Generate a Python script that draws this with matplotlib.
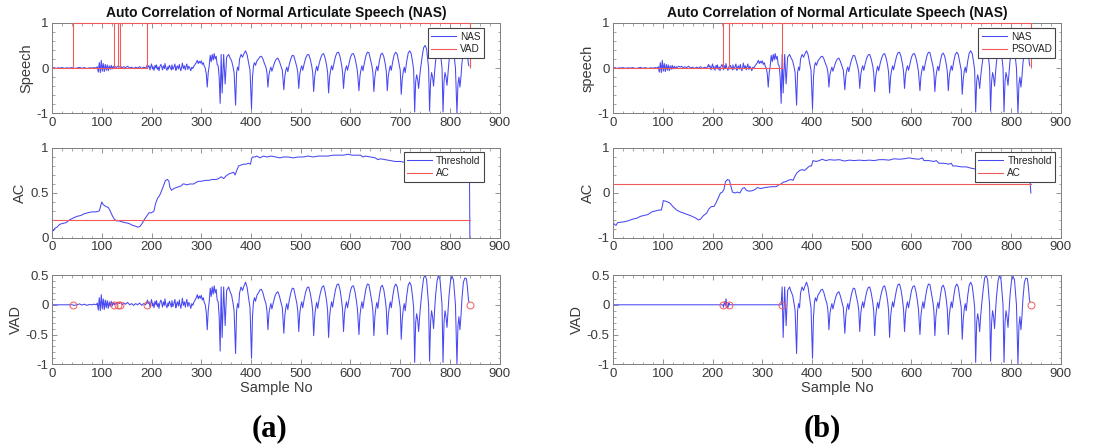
import numpy as np
import matplotlib
matplotlib.use("Agg")
import matplotlib.pyplot as plt
from matplotlib.ticker import MultipleLocator, AutoMinorLocator, FuncFormatter

plt.rcParams['font.family'] = ['Liberation Sans', 'DejaVu Sans']

# speech waveform, vertices (sample no, amplitude)
nas_x = [0, 4, 8, 12, 16, 20, 25, 30, 35, 40, 45, 50, 55, 60, 65, 70, 75, 80, 85, 89,
         91, 93, 95, 97, 99, 101, 103, 105, 107, 109, 111, 113, 115, 117, 119, 121, 123, 125, 127, 129,
         132, 135, 138, 141, 144, 148, 152, 156, 160, 164, 168, 172, 176, 180, 184, 188, 190,
         192, 193, 195, 197, 198, 200, 202, 203, 205, 207, 209, 210, 212, 214, 215, 217, 219, 221, 222,
         224, 226, 227, 229, 231, 233, 234, 236, 238, 240, 241, 243, 245, 247, 249, 250, 252, 254, 256,
         257, 259, 261, 262, 264, 266, 268, 269, 271, 273, 275, 277, 279, 281, 283, 285, 287,
         290, 292, 294, 296, 298, 300, 302, 304, 306, 308, 310, 312, 314, 316, 318, 320, 322, 324, 326,
         328, 330, 332, 334, 336, 338, 340, 342, 345, 348, 351, 355, 358, 361, 364, 366, 369, 371, 373,
         375, 377, 380, 383, 386, 389, 392, 395, 398, 401,
         403, 405, 407, 409, 412, 415, 418, 421, 424, 427, 430, 432, 434,
         436, 438, 440, 442, 445, 448, 451, 454, 457, 460, 463, 466,
         468, 470, 472, 474, 477, 480, 483, 486, 489, 492, 494, 496,
         498, 500, 502, 504, 507, 510, 513, 516, 519, 522, 524, 526,
         528, 530, 532, 534, 537, 540, 543, 546, 549, 552, 554, 556,
         558, 560, 562, 564, 567, 570, 573, 576, 579, 582, 584, 586,
         588, 590, 592, 594, 597, 600, 603, 606, 609, 612, 614, 617,
         619, 621, 623, 625, 628, 631, 634, 637, 640, 643, 645, 647,
         649, 651, 653, 655, 658, 661, 664, 667, 670, 672, 674,
         676, 678, 680, 682, 685, 688, 691, 694, 697, 700, 702,
         704, 706, 708, 710, 713, 716, 719, 722, 725, 727, 729,
         731, 733, 735, 737, 739, 741, 744, 747, 750, 753, 755, 757, 759,
         761, 763, 765, 767, 769, 771, 774, 777, 780, 782, 784, 786,
         788, 790, 792, 794, 796, 798, 801, 804, 807, 809, 811, 814,
         816, 818, 820, 822, 824, 827, 830, 833, 835, 837, 838]
nas_y = [0.0, 0.01, -0.01, 0.005, 0.0, 0.01, -0.005, 0.005, 0.0, 0.01, -0.01, 0.0, 0.015, -0.005, 0.01, -0.01, 0.005, 0.0, 0.01, 0.0,
         0.03, -0.09, 0.12, -0.1, 0.17, -0.07, 0.1, -0.08, 0.08, -0.05, 0.07, -0.06, 0.05, -0.03, 0.06, -0.02, 0.04, 0.0, 0.03, 0.01,
         0.04, 0.02, 0.04, 0.0, 0.03, 0.01, 0.04, 0.0, 0.02, -0.01, 0.02, 0.0, 0.03, -0.01, 0.02, 0.0, 0.03,
         0.08, 0.02, 0.05, -0.04, 0.01, 0.09, -0.02, 0.03, -0.05, 0.06, 0.0, 0.07, -0.03, 0.02, -0.06, 0.04, 0.08, 0.01, -0.04,
         0.05, -0.01, 0.1, 0.0, -0.05, 0.03, -0.02, 0.06, 0.01, -0.04, 0.07, -0.03, 0.02, 0.09, -0.05, 0.0, 0.05, -0.02, 0.08,
         0.01, -0.06, 0.04, 0.11, -0.01, 0.05, -0.04, 0.02, 0.09, -0.03, 0.04, 0.0, -0.06, 0.02, -0.01, 0.04, 0.07,
         0.12, 0.17, 0.1, 0.15, 0.11, 0.16, 0.08, 0.12, 0.04, 0.0, -0.12, -0.42, -0.1, 0.05, 0.28, 0.14, 0.3, 0.18, 0.32,
         0.2, 0.26, 0.08, 0.05, -0.2, -0.78, 0.3, -0.55, 0.3, -0.35, 0.24, 0.3, 0.22, 0.16, 0.02, -0.1, -0.82, -0.1, 0.02,
         -0.05, 0.2, 0.3, 0.24, 0.32, 0.38, 0.3, 0.12, -0.05, -0.9,
         -0.2, 0.05, 0.12, 0.06, 0.16, 0.2, 0.25, 0.26, 0.2, 0.1, 0.02, -0.1, -0.42,
         -0.15, -0.05, 0.02, -0.07, 0.04, 0.14, 0.2, 0.22, 0.15, 0.05, -0.05, -0.48,
         -0.18, -0.05, 0.02, -0.08, 0.08, 0.2, 0.28, 0.27, 0.15, 0.03, -0.1, -0.45,
         -0.15, -0.02, 0.05, -0.05, 0.1, 0.22, 0.29, 0.3, 0.2, 0.05, -0.1, -0.52,
         -0.2, -0.05, 0.04, -0.06, 0.1, 0.22, 0.3, 0.32, 0.22, 0.06, -0.1, -0.55,
         -0.2, -0.05, 0.05, -0.04, 0.12, 0.26, 0.34, 0.35, 0.25, 0.08, -0.08, -0.45,
         -0.15, -0.02, 0.05, -0.05, 0.1, 0.24, 0.31, 0.32, 0.22, 0.06, -0.08, -0.5,
         -0.18, -0.04, 0.05, -0.06, 0.12, 0.27, 0.35, 0.34, 0.2, 0.05, -0.1, -0.52,
         -0.2, -0.05, 0.04, -0.06, 0.15, 0.3, 0.33, 0.25, 0.08, -0.08, -0.5,
         -0.18, -0.04, 0.05, -0.05, 0.15, 0.3, 0.35, 0.3, 0.12, -0.05, -0.58,
         -0.25, -0.08, 0.02, -0.1, 0.15, 0.33, 0.38, 0.32, 0.12, -0.05, -0.97,
         -0.3, -0.15, -0.25, -0.45, -0.2, 0.0, 0.25, 0.45, 0.5, 0.42, 0.2, 0.0, -0.95,
         -0.3, -0.1, -0.2, -0.4, -0.1, 0.15, 0.4, 0.5, 0.42, 0.2, 0.0, -0.97,
         -0.3, -0.1, -0.2, -0.38, -0.1, 0.15, 0.4, 0.48, 0.42, 0.2, 0.0, -1.0,
         -0.35, -0.2, -0.42, -0.2, 0.1, 0.38, 0.45, 0.44, 0.3, 0.1, 0.05]

# autocorrelation curves
ac_a_x = [0, 3, 6, 10, 15, 20, 28, 35, 42, 50, 58, 65, 72, 80, 88, 95, 98, 100, 103, 108, 113, 117, 121,
          125, 130, 135, 140, 148, 155, 162, 168, 173, 177, 181, 185, 190, 195, 200, 205, 208, 212, 216,
          220, 224, 228, 232, 235, 237, 240, 245, 250, 255, 260, 263, 266, 270, 278, 285, 290, 295, 300,
          308, 315, 322, 330, 335, 340, 345, 350, 355, 360, 365, 368, 372, 375, 380, 385, 390, 395, 399,
          401, 403, 408, 412, 418, 425, 432, 440, 450, 458, 465, 475, 485, 495, 505, 515, 525, 535, 545,
          555, 565, 575, 585, 595, 603, 610, 620, 625, 630, 640, 650, 655, 660, 670, 680, 690, 700, 710,
          720, 730, 740, 760, 780, 800, 815, 825, 828, 832, 836, 839, 840]
ac_a_y = [0.1, 0.08, 0.11, 0.12, 0.15, 0.16, 0.17, 0.2, 0.22, 0.24, 0.25, 0.27, 0.28, 0.29, 0.29, 0.3, 0.36, 0.4, 0.37, 0.35, 0.34, 0.3, 0.25,
          0.21, 0.19, 0.19, 0.18, 0.17, 0.16, 0.14, 0.13, 0.12, 0.13, 0.16, 0.2, 0.24, 0.28, 0.28, 0.3, 0.38, 0.44, 0.47,
          0.52, 0.58, 0.64, 0.65, 0.63, 0.56, 0.53, 0.55, 0.56, 0.57, 0.58, 0.6, 0.6, 0.59, 0.6, 0.6, 0.62, 0.63, 0.63,
          0.64, 0.64, 0.65, 0.65, 0.66, 0.68, 0.66, 0.69, 0.71, 0.72, 0.73, 0.7, 0.76, 0.8, 0.81, 0.82, 0.82, 0.83, 0.82,
          0.88, 0.9, 0.9, 0.91, 0.89, 0.91, 0.9, 0.91, 0.9, 0.89, 0.9, 0.9, 0.89, 0.9, 0.9, 0.91, 0.9, 0.91, 0.91,
          0.91, 0.92, 0.92, 0.92, 0.93, 0.92, 0.92, 0.92, 0.9, 0.91, 0.9, 0.89, 0.87, 0.88, 0.87, 0.86, 0.85, 0.85, 0.84,
          0.83, 0.82, 0.8, 0.81, 0.8, 0.8, 0.82, 0.88, 0.96, 0.94, 0.9, 0.88, 0.0]
ac_b_x = [0, 3, 6, 9, 15, 22, 30, 40, 48, 55, 62, 70, 78, 85, 92, 97, 99, 101, 105, 110, 115, 120, 128,
          135, 145, 155, 165, 172, 176, 182, 188, 193, 198, 203, 207, 212, 216, 220, 223, 226, 230, 234,
          237, 240, 245, 250, 255, 260, 264, 268, 273, 280, 286, 290, 297, 305, 312, 320, 328, 333, 338,
          342, 347, 352, 358, 362, 366, 370, 375, 380, 385, 390, 395, 399, 402, 408, 415, 420, 428, 435,
          445, 455, 465, 475, 485, 495, 505, 515, 525, 535, 545, 555, 565, 575, 585, 595, 605, 615, 622,
          625, 635, 645, 650, 655, 665, 675, 680, 683, 690, 700, 710, 720, 730, 760, 790, 815, 822, 826,
          830, 836, 840]
ac_b_y = [-0.65, -0.7, -0.72, -0.66, -0.65, -0.64, -0.62, -0.58, -0.56, -0.52, -0.5, -0.48, -0.42, -0.4, -0.38, -0.38, -0.3, -0.17, -0.18, -0.2, -0.23, -0.3, -0.38,
          -0.42, -0.46, -0.5, -0.55, -0.6, -0.58, -0.5, -0.45, -0.35, -0.3, -0.3, -0.22, -0.1, 0.0, 0.02, 0.08, 0.25, 0.3, 0.28,
          0.15, 0.02, 0.0, 0.02, 0.0, 0.1, 0.12, 0.06, 0.04, 0.05, 0.08, 0.12, 0.1, 0.12, 0.13, 0.14, 0.14, 0.18, 0.2,
          0.24, 0.25, 0.28, 0.3, 0.28, 0.38, 0.45, 0.5, 0.52, 0.5, 0.55, 0.6, 0.6, 0.72, 0.7, 0.72, 0.75, 0.72, 0.74,
          0.73, 0.74, 0.71, 0.73, 0.72, 0.73, 0.72, 0.73, 0.72, 0.74, 0.74, 0.73, 0.76, 0.75, 0.76, 0.78, 0.76, 0.75, 0.78,
          0.72, 0.72, 0.7, 0.72, 0.66, 0.66, 0.64, 0.66, 0.6, 0.6, 0.58, 0.58, 0.55, 0.53, 0.55, 0.55, 0.6, 0.7, 0.9,
          0.85, 0.6, 0.0]
ac_level = 0.2
ac_end = 840

# VAD decisions: switching samples and end of speech
vad_a_edges = [42, 124, 133, 137, 190]
vad_b_edges = [222, 233, 340]
vad_end = 840

title_txt = 'Auto Correlation of Normal Articulate Speech (NAS)'
blue = '#4848f2'
red = '#f25a5a'
grey = '#808080'
txt = '#3a3a3a'


def style(ax, ylim, ystep):
    ax.set_xlim(0, 900)
    ax.set_ylim(*ylim)
    ax.xaxis.set_major_locator(MultipleLocator(100))
    ax.yaxis.set_major_locator(MultipleLocator(ystep))
    ax.xaxis.set_minor_locator(AutoMinorLocator(5))
    ax.yaxis.set_minor_locator(AutoMinorLocator(5))
    ax.tick_params(which='both', direction='in', top=True, right=True, color=grey,
                   labelsize=9.5, labelcolor=txt, pad=2.5)
    ax.tick_params(which='major', length=3.5, width=0.6)
    ax.tick_params(which='minor', length=1.8, width=0.5)
    for s in ax.spines.values():
        s.set_color(grey)
        s.set_linewidth(0.7)
    ax.yaxis.set_major_formatter(FuncFormatter(lambda v, p: '%g' % v))


def legend(ax, right, top):
    lg = ax.legend(loc='upper right', bbox_to_anchor=(right, top), borderaxespad=0,
                   fontsize=7.2, handlelength=2.5, handletextpad=0.4, borderpad=0.35,
                   labelspacing=0.25, fancybox=False, framealpha=1)
    lg.get_frame().set_edgecolor('#444444')
    lg.get_frame().set_linewidth(0.8)
    for t in lg.get_texts():
        t.set_color('#222222')


def draw_vad(ax, edges, label):
    ax.plot([0, max(edges)], [0, 0], color=red, lw=0.8, label=label, zorder=3)
    ax.plot([min(edges), vad_end], [1, 1], color=red, lw=0.8, zorder=3, clip_on=False)
    ax.vlines(edges + [vad_end], 0, 1, color=red, lw=0.8, zorder=3)


def panel(col, ylab_top, vad_label, edges, mask, ac_x, ac_y, acylim, acstep, lg_right):
    x0 = [0.0473, 0.5573][col]
    w = 0.4070
    ax1 = fig.add_axes([x0, 0.747, w, 0.2022])
    ax2 = fig.add_axes([x0, 0.4688, w, 0.2009])
    ax3 = fig.add_axes([x0, 0.1870, w, 0.1990])

    nx = np.array(nas_x)
    ny = np.array(nas_y)

    ax1.plot(nx, ny, color=blue, lw=0.75, label='NAS')
    draw_vad(ax1, edges, vad_label)
    style(ax1, (-1, 1), 1)
    ax1.set_ylabel(ylab_top, fontsize=10.5, color=txt, labelpad=2)
    ax1.set_title(title_txt, fontsize=10, fontweight='bold', pad=4, color='#111111')
    legend(ax1, lg_right, 0.94)

    ax2.plot(ac_x, ac_y, color=blue, lw=0.75, label='Threshold')
    ax2.plot([0, ac_end], [ac_level, ac_level], color=red, lw=0.8, label='AC')
    style(ax2, acylim, acstep)
    ax2.set_ylabel('AC', fontsize=10.5, color=txt, labelpad=2)
    legend(ax2, lg_right, 0.95)

    keep = mask(nx)
    ax3.plot(nx, np.where(keep, ny, 0.0), color=blue, lw=0.75)
    marks = edges + [vad_end]
    ax3.plot(marks, [0] * len(marks), 'o', ms=5, mfc='none', mec=red, mew=0.7)
    style(ax3, (-1, 0.5), 0.5)
    ax3.set_ylabel('VAD', fontsize=10.5, color=txt, labelpad=2)
    ax3.set_xlabel('Sample No', fontsize=10.5, color=txt, labelpad=1)


fig = plt.figure(figsize=(11, 4.48), dpi=100)

panel(0, 'Speech', 'VAD', vad_a_edges,
      lambda x: x >= vad_a_edges[0], ac_a_x, ac_a_y, (0, 1), 0.5, 0.965)
panel(1, 'speech', 'PSOVAD', vad_b_edges,
      lambda x: ((x >= vad_b_edges[0]) & (x <= vad_b_edges[1])) | (x >= vad_b_edges[2]),
      ac_b_x, ac_b_y, (-1, 1), 1, 0.988)

for xc, lab in [(0.245, '(a)'), (0.748, '(b)')]:
    fig.text(xc, 0.042, lab, ha='center', va='center', fontsize=22, fontweight='bold',
             family=['Liberation Serif', 'DejaVu Serif'])

fig.savefig('out.png', dpi=100)
